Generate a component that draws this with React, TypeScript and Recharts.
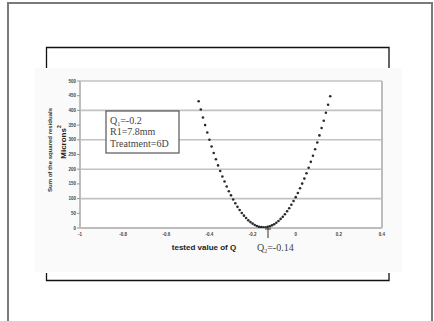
import React from "react";
import {
  ScatterChart,
  Scatter,
  XAxis,
  YAxis,
  CartesianGrid,
  ReferenceLine,
} from "recharts";

// tested value of Q (step 0.01)
const qValues = [
  -0.45, -0.44, -0.43, -0.42, -0.41, -0.4, -0.39, -0.38, -0.37, -0.36, -0.35,
  -0.34, -0.33, -0.32, -0.31, -0.3, -0.29, -0.28, -0.27, -0.26, -0.25, -0.24,
  -0.23, -0.22, -0.21, -0.2, -0.19, -0.18, -0.17, -0.16, -0.15, -0.14, -0.13,
  -0.12, -0.11, -0.1, -0.09, -0.08, -0.07, -0.06, -0.05, -0.04, -0.03, -0.02,
  -0.01, 0, 0.01, 0.02, 0.03, 0.04, 0.05, 0.06, 0.07, 0.08, 0.09, 0.1, 0.11,
  0.12, 0.13, 0.14, 0.15, 0.16,
];

// sum of the squared residuals (microns^2)
const residuals = [
  431, 403, 376, 350, 325, 300, 277, 255, 234, 213, 194, 175, 158, 141, 125,
  111, 97, 84, 72, 61, 51, 42, 34, 26, 20, 15, 10, 7, 4, 3, 2, 2, 4, 6, 9, 13,
  18, 24, 31, 38, 47, 57, 67, 79, 92, 105, 119, 135, 151, 168, 186, 205, 225,
  246, 268, 291, 315, 340, 365, 392, 419, 448,
];

const xTicks = [-1, -0.8, -0.6, -0.4, -0.2, 0, 0.2, 0.4];
const yTicks = [0, 50, 100, 150, 200, 250, 300, 350, 400, 450, 500];

const data = qValues.map((q, i) => ({ q, r: residuals[i] }));

const SANS = "'Liberation Sans', Arial, sans-serif";
const SERIF = "'Liberation Serif', 'Times New Roman', serif";

// plot area in page pixels
const PLOT = { left: 80, right: 382, top: 81, bottom: 228 };
const Y_AXIS_W = 20;
const X_AXIS_H = 14;

const Dot = (props: any) => (
  <circle cx={props.cx} cy={props.cy} r={1.3} fill="#2a2a2a" />
);

export default function App() {
  return (
    <div
      style={{
        position: "absolute",
        left: 0,
        top: 0,
        width: 434,
        height: 321,
        overflow: "hidden",
        background: "#fff",
      }}
    >
      {/* page frame, grey chart backdrop, brackets */}
      <svg
        width={434}
        height={321}
        style={{ position: "absolute", left: 0, top: 0 }}
      >
        <rect x={8} y={3} width={424} height={340} fill="none" stroke="#7a7a7a" strokeWidth={2} />
        <rect x={35} y={68} width={367} height={204} fill="#fafafa" />
        <rect
          x={PLOT.left}
          y={PLOT.top}
          width={PLOT.right - PLOT.left}
          height={PLOT.bottom - PLOT.top}
          fill="#fff"
        />
        <polyline
          points="46.5,68 46.5,47.5 389,47.5 389,68"
          fill="none"
          stroke="#111"
          strokeWidth={1.3}
        />
        <polyline
          points="46.5,273 46.5,280.5 389,280.5 389,273"
          fill="none"
          stroke="#111"
          strokeWidth={1.3}
        />
      </svg>

      <div style={{ position: "absolute", left: 0, top: 0 }}>
        <ScatterChart
          width={434}
          height={321}
          margin={{
            top: PLOT.top,
            right: 434 - PLOT.right,
            bottom: 321 - PLOT.bottom - X_AXIS_H,
            left: PLOT.left - Y_AXIS_W,
          }}
        >
          <CartesianGrid vertical={false} stroke="#c2c2c2" strokeWidth={1.6} />
          <XAxis
            type="number"
            dataKey="q"
            domain={[-1, 0.4]}
            ticks={xTicks}
            height={X_AXIS_H}
            tickSize={0}
            tickMargin={5}
            axisLine={{ stroke: "#bdbdbd", strokeWidth: 2 }}
            tick={{ fontSize: 4.5, fill: "#444", fontFamily: SANS, fontWeight: 700 }}
            allowDataOverflow
          />
          <YAxis
            type="number"
            dataKey="r"
            domain={[0, 500]}
            ticks={yTicks}
            width={Y_AXIS_W}
            tickSize={3}
            tickMargin={1}
            axisLine={{ stroke: "#bdbdbd", strokeWidth: 2 }}
            tickLine={{ stroke: "#999" }}
            tick={{ fontSize: 4.5, fill: "#444", fontFamily: SANS, fontWeight: 700 }}
            allowDataOverflow
          />
          <ReferenceLine x={0.4} stroke="#bdbdbd" strokeWidth={2} />
          <Scatter data={data} shape={<Dot />} isAnimationActive={false} />
        </ScatterChart>
      </div>

      {/* labels and info box */}
      <svg
        width={434}
        height={321}
        style={{ position: "absolute", left: 0, top: 0, pointerEvents: "none" }}
      >
        <text
          x={50}
          y={150}
          transform="rotate(-90 50 150)"
          textAnchor="middle"
          dominantBaseline="central"
          fontFamily={SANS}
          fontWeight={700}
          fontSize={6}
          fill="#333"
        >
          Sum of the squared residuals
        </text>
        <text
          x={63}
          y={142}
          transform="rotate(-90 63 142)"
          textAnchor="middle"
          dominantBaseline="central"
          fontFamily={SANS}
          fontWeight={700}
          fontSize={8}
          fill="#222"
        >
          Microns
          <tspan fontSize={5} dy={-4}>
            2
          </tspan>
        </text>

        <rect x={106} y={111} width={73} height={42} fill="#fff" stroke="#555" strokeWidth={1.2} />
        <g fontFamily={SERIF} fontSize={10} fill="#444">
          <text x={110} y={124}>
            Q<tspan fontSize={6} dy={2}>1</tspan>
            <tspan dy={-2}>=-0.2</tspan>
          </text>
          <text x={110} y={135}>R1=7.8mm</text>
          <text x={110} y={147}>Treatment=6D</text>
        </g>

        <text
          x={204}
          y={250}
          textAnchor="middle"
          fontFamily={SANS}
          fontWeight={700}
          fontSize={8}
          fill="#222"
        >
          tested value of Q
        </text>

        <polyline points="268,228 268,238" fill="none" stroke="#333" strokeWidth={1} />
        <line x1={265} y1={229} x2={271} y2={229} stroke="#333" strokeWidth={1} />
        <text x={257} y={250.5} fontFamily={SERIF} fontSize={10} fill="#444">
          Q<tspan fontSize={6} dy={2}>2</tspan>
          <tspan dy={-2}>=-0.14</tspan>
        </text>
      </svg>
    </div>
  );
}
